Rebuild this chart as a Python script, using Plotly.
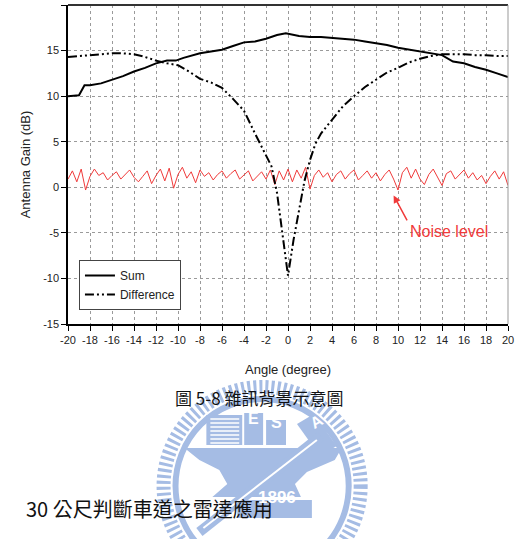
import numpy as np
import plotly.graph_objects as go

# ---------------- data ----------------
sum_x = [-20, -19, -18.5, -18, -17, -16, -15, -14, -13, -12, -11, -10.2, -9.5, -8, -7, -6, -5, -4, -3, -2, -1, -0.2,
         1, 2, 3, 4, 5, 6, 7, 8, 9, 10, 11, 12, 13, 14, 15, 16, 17, 18, 19, 20]
sum_y = [10.0, 10.1, 11.2, 11.2, 11.4, 11.8, 12.2, 12.7, 13.1, 13.6, 13.9, 13.9, 14.2, 14.7, 14.9, 15.1, 15.5, 15.9,
         16.0, 16.3, 16.7, 16.9, 16.6, 16.5, 16.5, 16.4, 16.3, 16.2, 16.0, 15.8, 15.6, 15.3, 15.1, 14.9, 14.7, 14.5,
         13.8, 13.6, 13.2, 12.9, 12.5, 12.1]

diff_x = [-20, -19, -18, -17, -16, -15, -14, -13, -12, -11, -10, -9, -8, -7, -6, -5, -4, -3, -2.5, -2, -1.5, -1,
          -0.5, 0, 0.5, 1, 1.5, 2, 2.5, 3, 4, 5, 6, 7, 8, 9, 10, 11, 12, 13, 14, 15, 16, 17, 18, 19, 20]
diff_y = [14.3, 14.4, 14.5, 14.6, 14.7, 14.7, 14.6, 14.3, 13.9, 13.6, 13.4, 12.7, 11.9, 11.5, 10.9, 9.7, 8.4, 5.9,
          4.7, 3.6, 2.3, -0.6, -5.3, -9.7, -5.8, -2.4, 0.7, 3.0, 4.8, 5.9, 7.4, 8.9, 10.0, 11.0, 11.8, 12.6, 13.1,
          13.7, 14.1, 14.4, 14.6, 14.6, 14.6, 14.5, 14.5, 14.4, 14.4]

noise_y = [0.9, 1.8, 0.6, 2.0, -0.3, 1.2, 2.0, 1.3, 1.6, 0.8, 1.3, 1.7, 0.9, 1.4, 1.9, 1.1, 0.6, 1.2, 1.8, 0.4,
           1.3, 2.0, 0.7, 2.1, -0.1, 1.4, 2.2, 1.0, 1.7, 0.5, 1.9, 1.2, 1.6, 0.8, 1.4, 1.8, 1.0, 1.5, 1.9, 0.9,
           1.3, 1.8, 0.7, 1.2, 1.7, 0.9, 1.9, 0.3, 1.8, 0.8, 2.0, 0.6, 1.9, 1.0, 2.2, -0.2, 1.3, 1.9, 1.1, 1.6,
           0.6, 1.4, 1.8, 0.9, 1.5, 1.9, 0.8, 1.3, 1.8, 1.0, 1.6, 0.7, 1.4, 1.9, 0.9, -0.3, 1.6, 2.2, 1.0, 2.0,
           0.9, 0.3, 1.4, 2.0, 1.1, 0.2, 1.5, 1.8, 0.9, 1.4, 1.9, 1.0, 1.6, 0.8, 1.3, 0.4, 1.2, 1.8, 0.9, 1.7, 0.2]
noise_x = np.linspace(-20, 20, len(noise_y))

x_ticks = list(range(-20, 21, 2))
x_ticktext = [str(v) for v in x_ticks]
y_ticks = [-15, -10, -5, 0, 5, 10, 15, 20]
y_ticktext = [str(v) for v in y_ticks]

# ---------------- figure ----------------
W, H = 519, 539
L, R, T, B = 68, 9, 5, 215
PW, PH = W - L - R, H - T - B
DY = 0


def px(x):
    return (x - L) / PW


def py(y):
    return (H - B - y) / PH


def wy(y):
    return py(y + DY)


fig = go.Figure()
fig.add_trace(go.Scatter(x=noise_x, y=noise_y, mode="lines", line=dict(color="#f03a3a", width=1),
                         showlegend=False))
fig.add_trace(go.Scatter(x=sum_x, y=sum_y, mode="lines", name="Sum",
                         line=dict(color="black", width=2)))
fig.add_trace(go.Scatter(x=diff_x, y=diff_y, mode="lines", name="Difference",
                         line=dict(color="black", width=2, dash="9px,3px,2px,3px,2px,3px")))

tick_font = dict(family="Liberation Sans, Arial", size=11, color="#222")
fig.update_xaxes(range=[-20, 20], tickvals=x_ticks, ticktext=x_ticktext, ticks="outside", ticklen=5,
                 tickcolor="black", showline=True, linecolor="black", linewidth=1.5, mirror=False,
                 showgrid=True, gridcolor="#9a9a9a", griddash="dot", gridwidth=1, zeroline=False,
                 tickfont=tick_font,
                 title=dict(text="Angle (degree)", font=dict(family="Liberation Sans, Arial", size=13, color="#222"),
                            standoff=20))
fig.update_yaxes(range=[-15, 20], tickvals=y_ticks, ticktext=y_ticktext, ticks="outside", ticklen=5,
                 tickcolor="black", showline=True, linecolor="black", linewidth=1.5,
                 showgrid=True, gridcolor="#9a9a9a", griddash="dot", gridwidth=1, zeroline=False,
                 tickfont=tick_font,
                 title=dict(text="Antenna Gain (dB)", font=dict(family="Liberation Sans, Arial", size=13, color="#222"),
                            standoff=10))

shapes = []
# top and right border
shapes.append(dict(type="line", xref="paper", yref="paper", x0=0, x1=1, y0=1, y1=1,
                   line=dict(color="#333", width=2)))
shapes.append(dict(type="line", xref="paper", yref="paper", x0=1, x1=1, y0=0, y1=1,
                   line=dict(color="#999", width=1)))

# watermark (decorative logo)
wm = "#a5bce4"
cx, cy = 263, 486
for r, w, d in [(99, 14, "3px,3px"), (87, 6, "solid")]:
    shapes.append(dict(type="circle", xref="paper", yref="paper", layer="below",
                       x0=px(cx - r), x1=px(cx + r), y0=wy(cy + r), y1=wy(cy - r),
                       line=dict(color=wm, width=w, dash=d)))
for (a, b, c, d) in [(207, 415, 243, 445), (245, 413, 264, 445), (267, 420, 287, 445), (238, 500, 313, 518)]:
    shapes.append(dict(type="rect", xref="paper", yref="paper", layer="below",
                       x0=px(a), x1=px(c), y0=wy(d), y1=wy(b), fillcolor=wm, line=dict(width=0)))
for yy in range(419, 444, 4):
    shapes.append(dict(type="line", xref="paper", yref="paper", layer="below",
                       x0=px(211), x1=px(240), y0=wy(yy), y1=wy(yy), line=dict(color="white", width=1.5)))


def path(pts):
    s = "M " + " L ".join(f"{px(a):.4f},{wy(b):.4f}" for a, b in pts) + " Z"
    return s


shapes.append(dict(type="path", xref="paper", yref="paper", layer="below",
                   path=path([(298, 424), (315, 414), (338, 446), (321, 456)]), fillcolor=wm, line=dict(width=0)))
shapes.append(dict(type="path", xref="paper", yref="paper", layer="below",
                   path=path([(185, 448), (343, 448), (336, 460), (308, 472), (296, 484), (302, 497),
                              (213, 497), (228, 484), (220, 470), (200, 460)]),
                   fillcolor=wm, line=dict(width=0)))
shapes.append(dict(type="line", xref="paper", yref="paper", layer="below",
                   x0=px(200), x1=px(322), y0=wy(532), y1=wy(436), line=dict(color=wm, width=10)))
shapes.append(dict(type="line", xref="paper", yref="paper", layer="below",
                   x0=px(204), x1=px(318), y0=wy(528), y1=wy(440), line=dict(color="white", width=2)))
fig.update_layout(shapes=shapes)

anns = [
    dict(x=9.6, y=-0.9, ax=10.9, ay=-3.8, xref="x", yref="y", axref="x", ayref="y",
         text="", showarrow=True, arrowhead=2, arrowsize=1, arrowcolor="#f03a3a", arrowwidth=1.5),
    dict(x=14.6, y=-4.9, xref="x", yref="y", text="Noise level", showarrow=False,
         font=dict(family="Liberation Sans, Arial", size=16, color="#f03a3a")),
    dict(x=px(260), y=py(412), xref="paper", yref="paper", text="圖 5-8 雜訊背景示意圖", showarrow=False,
         font=dict(family="Noto Sans CJK TC", size=17, color="#111")),
    dict(x=px(24), y=py(525), xref="paper", yref="paper", xanchor="left", text="30 公尺判斷車道之雷達應用",
         showarrow=False, font=dict(family="Noto Sans CJK TC", size=20, color="#111")),
    dict(x=px(254), y=wy(429), xref="paper", yref="paper", text="<b>E</b>", showarrow=False,
         font=dict(family="Liberation Sans", size=16, color="white")),
    dict(x=px(277), y=wy(433), xref="paper", yref="paper", text="<b>S</b>", showarrow=False,
         font=dict(family="Liberation Sans", size=16, color="white")),
    dict(x=px(318), y=wy(435), xref="paper", yref="paper", text="<b>A</b>", showarrow=False, textangle=-30,
         font=dict(family="Liberation Sans", size=16, color="white")),
    dict(x=px(278), y=wy(509), xref="paper", yref="paper", text="<b>1896</b>", showarrow=False,
         font=dict(family="Liberation Sans", size=17, color="white")),
]
fig.update_layout(annotations=anns)

fig.update_layout(
    width=W, height=H, margin=dict(l=L, r=R, t=T, b=B),
    paper_bgcolor="white", plot_bgcolor="white",
    legend=dict(x=px(79), y=py(260), xanchor="left", yanchor="top", bgcolor="white",
                bordercolor="#444", borderwidth=1, font=dict(family="Liberation Sans, Arial", size=12, color="#222"),
                tracegroupgap=0, itemwidth=30),
)

fig.write_html("out.html")
